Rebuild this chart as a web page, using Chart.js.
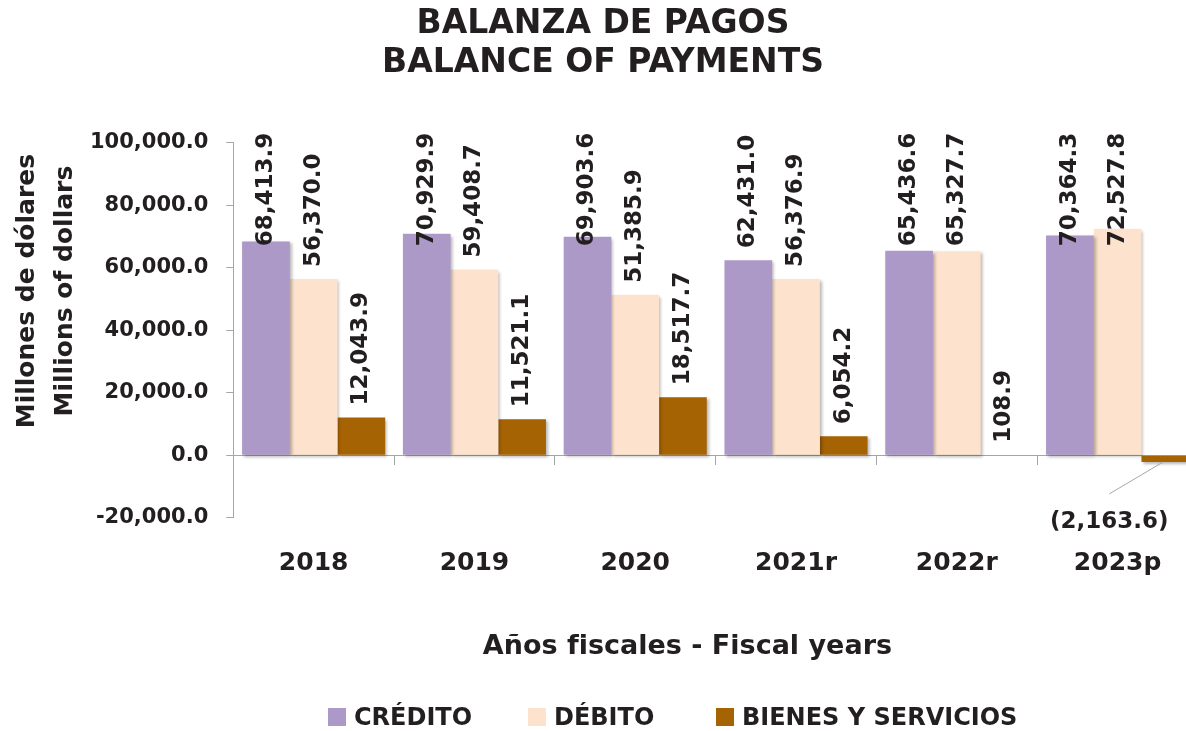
<!DOCTYPE html>
<html lang="es">
<head>
<meta charset="utf-8">
<title>Balanza de pagos</title>
<script src="https://cdn.jsdelivr.net/npm/chart.js@4"></script>
<style>
  html, body { margin: 0; padding: 0; background: #fff; overflow: hidden; }
  #marco { position: relative; width: 1186px; height: 731px; overflow: hidden; }
  #grafico { position: absolute; left: 0; top: 0; }
  .leyenda_item { position: absolute; top: 703px; display: flex; align-items: center;
    font: bold 24px "DejaVu Sans"; color: #231F20; white-space: nowrap; }
  .leyenda_caja { width: 18px; height: 18px; margin-right: 8px; }
</style>
</head>
<body>
<div id="marco">
  <canvas id="grafico" width="1212" height="731"></canvas>
</div>
<script>
// datos
const anios = ["2018", "2019", "2020", "2021r", "2022r", "2023p"];
const credito = [68413.9, 70929.9, 69903.6, 62431.0, 65436.6, 70364.3];
const debito = [56370.0, 59408.7, 51385.9, 56376.9, 65327.7, 72527.8];
const bienes = [12043.9, 11521.1, 18517.7, 6054.2, 108.9, -2163.6];
const nombres = ["CRÉDITO", "DÉBITO", "BIENES Y SERVICIOS"];
const colores = ["#AC99C8", "#FDE3CD", "#A66304"];
const ticksY = [-20000, 100000, 20000]; // min, max, paso

const colorTexto = "#231F20";
const colorEje = "#A6A6A6";

function formato(v) {
  const s = Math.abs(v).toLocaleString("en-US", { minimumFractionDigits: 1, maximumFractionDigits: 1 });
  return v < 0 ? "(" + s + ")" : s;
}

//sombra suave de las barras + etiquetas de valor (verticales)
const etiquetas = {
  id: "etiquetas",
  beforeDatasetsDraw(chart) {
    const ctx = chart.ctx;
    ctx.save();
    ctx.shadowColor = "rgba(0, 0, 0, 0.28)";
    ctx.shadowBlur = 3;
    ctx.shadowOffsetX = 2;
    ctx.shadowOffsetY = 2;
  },
  afterDatasetsDraw(chart) {
    const ctx = chart.ctx;
    ctx.restore();
    const limite = chart.chartArea.top - 10;
    ctx.save();
    ctx.font = 'bold 23px "DejaVu Sans"';
    ctx.fillStyle = colorTexto;
    chart.data.datasets.forEach((ds, i) => {
      chart.getDatasetMeta(i).data.forEach((barra, j) => {
        const v = ds.data[j];
        const txt = formato(v);
        if (v >= 0) {
          const w = ctx.measureText(txt).width;
          let y = barra.y - 12;
          if (y - w < limite) y = limite + w;
          ctx.save();
          ctx.translate(barra.x, y);
          ctx.rotate(-Math.PI / 2);
          ctx.textAlign = "left";
          ctx.textBaseline = "middle";
          ctx.fillText(txt, 0, 0);
          ctx.restore();
        } else {
          // linea guia hacia la etiqueta negativa
          ctx.strokeStyle = colorEje;
          ctx.lineWidth = 1;
          ctx.beginPath();
          ctx.moveTo(barra.x - 2, barra.y);
          ctx.lineTo(barra.x - 56, barra.y + 32);
          ctx.stroke();
          ctx.textAlign = "center";
          ctx.textBaseline = "middle";
          ctx.fillText(txt, barra.x - 56, barra.y + 60);
        }
      });
    });
    ctx.restore();
  },
};

Chart.defaults.font.family = '"DejaVu Sans"';
Chart.defaults.font.weight = "bold";
Chart.defaults.color = colorTexto;

const series = [credito, debito, bienes];

new Chart(document.getElementById("grafico"), {
  type: "bar",
  data: {
    labels: anios,
    datasets: series.map((d, i) => ({
      label: nombres[i],
      data: d,
      backgroundColor: colores[i],
      borderWidth: 0,
      categoryPercentage: 0.89,
      barPercentage: 1.0,
    })),
  },
  options: {
    responsive: false,
    animation: false,
    devicePixelRatio: 1,
    layout: { padding: { left: 8, right: 14, top: 0, bottom: 68 } },
    plugins: {
      legend: { display: false },
      tooltip: { enabled: false },
      title: {
        display: true,
        text: ["BALANZA DE PAGOS", "BALANCE OF PAYMENTS"],
        color: colorTexto,
        font: { size: 33, weight: "bold", lineHeight: 1.21 },
        padding: { top: 4, bottom: 59 },
      },
    },
    scales: {
      x: {
        offset: true,
        grid: { display: false, drawTicks: false },
        border: { display: false },
        ticks: { padding: 31, font: { size: 25, weight: "bold" }, color: colorTexto },
        title: {
          display: true,
          text: "Años fiscales - Fiscal years      ",
          color: colorTexto,
          font: { size: 27, weight: "bold" },
          padding: { top: 21, bottom: 0 },
        },
      },
      x2: {
        type: "category",
        labels: anios,
        position: { y: 0 },
        offset: true,
        grid: { offset: true, drawOnChartArea: false, tickLength: 9, color: colorEje },
        border: { display: true, color: colorEje },
        ticks: { display: false },
      },
      y: {
        min: ticksY[0],
        max: ticksY[1],
        ticks: {
          stepSize: ticksY[2],
          padding: 18,
          font: { size: 21, weight: "bold" },
          color: colorTexto,
          callback: (v) => formato(v).replace("(", "-").replace(")", ""),
        },
        grid: { drawOnChartArea: false, tickLength: 7, color: colorEje },
        border: { display: true, color: colorEje },
        title: {
          display: true,
          text: ["         Millones de dólares", "         Millions of dollars"],
          color: colorTexto,
          font: { size: 25, weight: "bold", lineHeight: 1.52 },
          padding: { top: 0, bottom: -12 },
        },
      },
    },
  },
  plugins: [etiquetas],
});

//leyenda en html, construida con los mismos nombres y colores
const posicionesLeyenda = [328, 528, 716];
const marco = document.getElementById("marco");
nombres.forEach((n, i) => {
  const item = document.createElement("div");
  item.className = "leyenda_item";
  item.style.left = posicionesLeyenda[i] + "px";
  const caja = document.createElement("span");
  caja.className = "leyenda_caja";
  caja.style.background = colores[i];
  item.appendChild(caja);
  item.appendChild(document.createTextNode(n));
  marco.appendChild(item);
});
</script>
</body>
</html>
